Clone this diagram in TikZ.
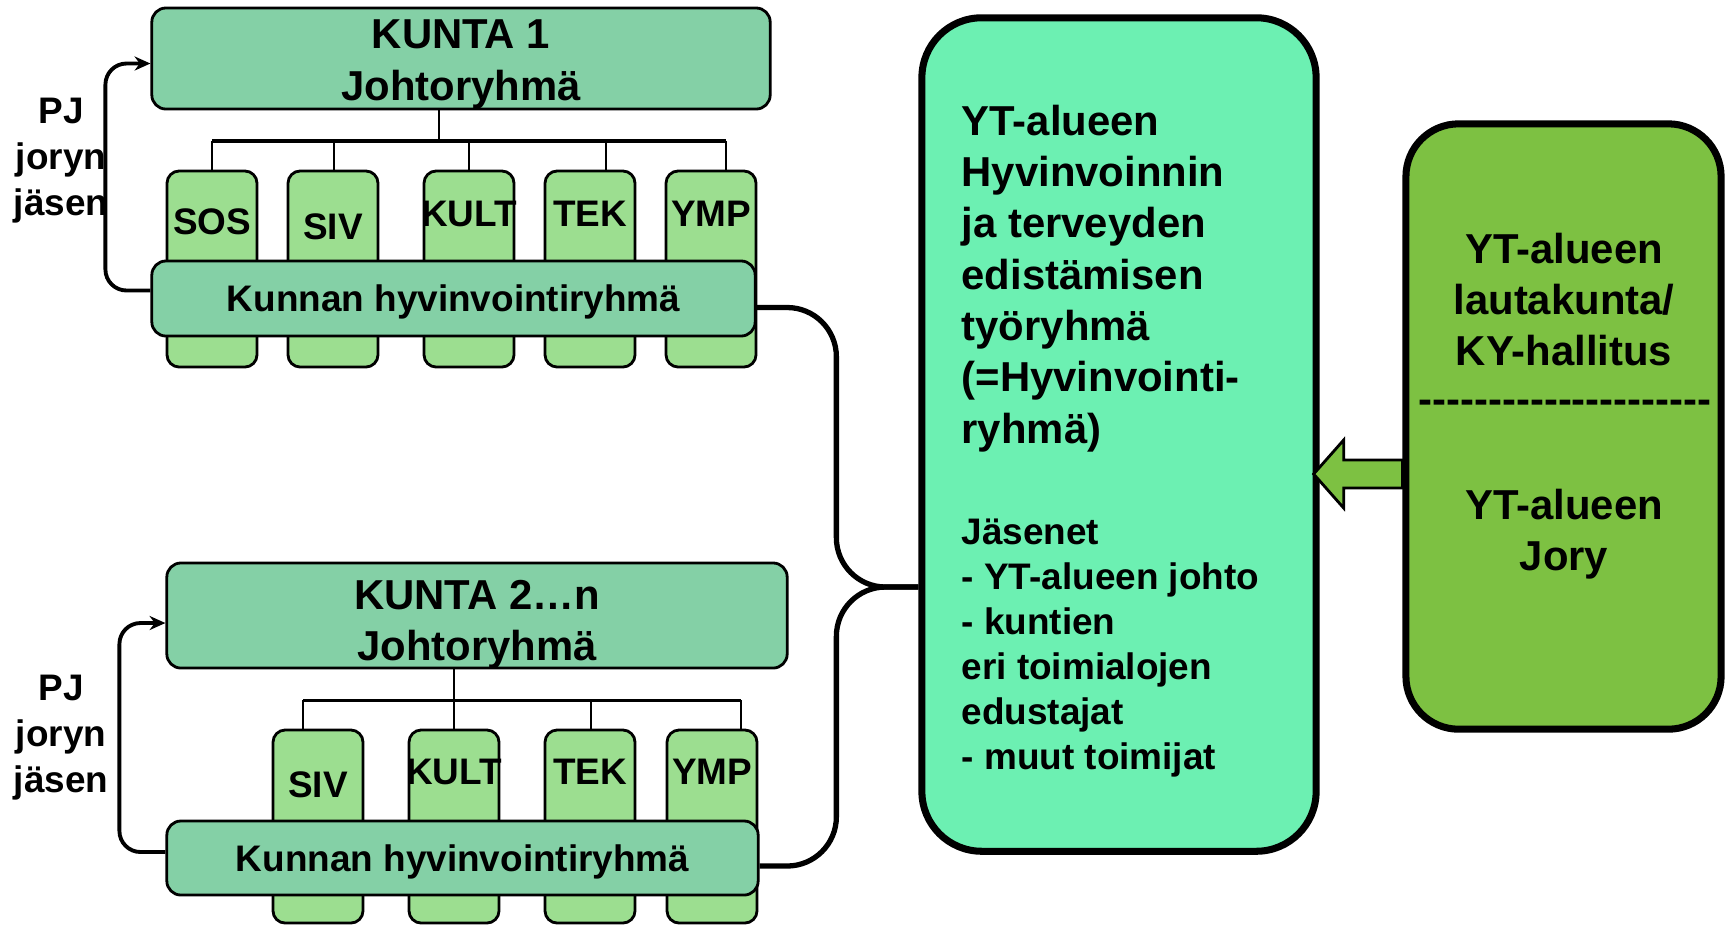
\documentclass[tikz,border=0pt]{standalone}
\usepackage{fontspec}
\setmainfont{Liberation Sans}
\usetikzlibrary{calc,arrows.meta}

\definecolor{jrgreen}{HTML}{84D0A6}
\definecolor{unitgreen}{HTML}{9CDE90}
\definecolor{ytgreen}{HTML}{6CF0B2}
\definecolor{jorygreen}{HTML}{7DC142}

\begin{document}
\begin{tikzpicture}[x=0.01cm, y=-0.01cm,
	bigtext/.style={font=\bfseries\fontsize{11.9}{14.6}\selectfont, inner sep=0pt},
	smalltext/.style={font=\bfseries\fontsize{10.5}{12.8}\selectfont, inner sep=0pt},
	pjtext/.style={font=\bfseries\fontsize{10.5}{13.1}\selectfont, inner sep=0pt, align=center},
	jrbox/.style={draw, line width=0.8pt, fill=jrgreen, rounded corners=4pt},
	unitbox/.style={draw, line width=0.8pt, fill=unitgreen, rounded corners=3.5pt, minimum width=0.9cm},
	tree/.style={line width=0.8pt},
	treebar/.style={line width=1.1pt},
	pjline/.style={line width=1.1pt, rounded corners=6pt, -{Stealth[length=4.5pt,width=4pt]}},
	brace/.style={line width=1.5pt, rounded corners=14pt},
	bigbox/.style={draw, line width=2pt},
	blockarrow/.style={draw, line width=0.8pt, fill=jorygreen, line join=miter}]

	\useasboundingbox (0,0) rectangle (1725,926);

	% ---- kunta 1

	\foreach \n/\x/\lbl/\dy in {sos/212/SOS/52, siv/333/SIV/57, kult/469/KULT/44, tek/590/TEK/44, ymp/711/YMP/44} {
		\node[unitbox, minimum height=1.96cm] (a\n) at (\x,269) {};
		\node[smalltext] (a\n-t) at ($(a\n.north)+(0,\dy)$) {\lbl};
	}

	\node[jrbox, smalltext, text depth=0pt, minimum width=6.03cm, minimum height=0.75cm] (kh1) at (453.5,298.5) {Kunnan hyvinvointiryhmä};

	\node[jrbox, minimum width=6.18cm, minimum height=1.01cm] (jr1) at (461,58.5) {};
	\node[bigtext, align=center] (jr1-t) at ($(jr1)+(0,6)$) {KUNTA 1\\Johtoryhmä};

	\coordinate (bar1) at ($(jr1.south)+(-22,30.5)$);
	\draw[tree] (jr1.south -| bar1) -- (bar1);
	\draw[treebar] (asos.north |- bar1) -- ($(aymp.north |- bar1)+(15,0)$);
	\foreach \n/\dx in {sos/0, siv/1, kult/0, tek/16, ymp/15} {
		\draw[tree] ($(a\n.north |- bar1)+(\dx,0)$) -- ($(a\n.north)+(\dx,0)$);
	}

	\coordinate (pj1) at ($(jr1.west)+(-45,5)$);
	\draw[pjline] ($(kh1.west)+(0,-8)$) -| (pj1) -- ($(jr1.west)+(0,5)$);
	\node[pjtext] (pj1-t) at (61,161) {PJ\\joryn\\jäsen};

	% ---- kunta 2...n

	\foreach \n/\x/\lbl/\dy in {siv/318/SIV/56, kult/454/KULT/43, tek/590/TEK/43, ymp/712/YMP/43} {
		\node[unitbox, minimum height=1.93cm] (b\n) at (\x,826.5) {};
		\node[smalltext] (b\n-t) at ($(b\n.north)+(0,\dy)$) {\lbl};
	}

	\node[jrbox, smalltext, text depth=0pt, minimum width=5.91cm, minimum height=0.74cm] (kh2) at (462.5,858) {Kunnan hyvinvointiryhmä};

	\node[jrbox, minimum width=6.2cm, minimum height=1.05cm] (jr2) at (477,615.5) {};
	\node[bigtext, align=center] (jr2-t) at ($(jr2)+(0,9)$) {KUNTA 2…n\\Johtoryhmä};

	\coordinate (bar2) at ($(jr2.south)+(-23,31)$);
	\draw[tree] (jr2.south -| bar2) -- (bar2);
	\draw[treebar] ($(bsiv.north |- bar2)+(-15,0)$) -- ($(bymp.north |- bar2)+(29,0)$);
	\foreach \n/\dx in {siv/-15, kult/0, tek/1, ymp/29} {
		\draw[tree] ($(b\n.north |- bar2)+(\dx,0)$) -- ($(b\n.north)+(\dx,0)$);
	}

	\coordinate (pj2) at ($(jr2.west)+(-46,7.5)$);
	\draw[pjline] ($(kh2.west)+(0,-6)$) -| (pj2) -- ($(jr2.west)+(0,7.5)$);
	\node[pjtext] (pj2-t) at (61,738) {PJ\\joryn\\jäsen};

	% ---- YT-alueen hyvinvointiryhma

	\node[bigbox, fill=ytgreen, rounded corners=17pt, minimum width=3.94cm, minimum height=8.33cm] (yt) at (1119,434.5) {};
	\node[bigtext, align=left, anchor=north west] (yt-title) at (961,104)
		{YT-alueen\\Hyvinvoinnin\\ja terveyden\\edistämisen\\työryhmä\\(=Hyvinvointi-\\ryhmä)};
	\node[smalltext, align=left, anchor=north west] (yt-members) at (961,518)
		{Jäsenet\\- YT-alueen johto\\- kuntien\\eri toimialojen\\edustajat\\- muut toimijat};

	\coordinate (meet) at ($(yt.west)+(0,152.5)$);
	\coordinate (bend) at ($(meet)+(-82,0)$);
	\draw[brace] ($(kh1.east)+(0,9)$) -| (bend) -- (meet);
	\draw[brace] ($(kh2.east)+(0,8)$) -| (bend) -- (meet);

	% ---- lautakunta / jory

	\node[bigbox, fill=jorygreen, rounded corners=15pt, minimum width=3.15cm, minimum height=6.05cm] (jory) at (1563.5,426.5) {};
	\node[bigtext, align=center, anchor=north] (jory-top) at (1564,232) {YT-alueen\\lautakunta/\\KY-hallitus};
	\node[bigtext, anchor=base] (jory-dash) at (1565,413) {\foreach \i in {1,...,21}{-\kern0pt}};
	\node[bigtext, align=center, anchor=north] (jory-bottom) at (1564,488) {YT-alueen\\Jory};

	\coordinate (tip) at ($(yt.east)+(-6,39.5)$);
	\draw[blockarrow] (tip) -- ++(30,-34) -- ++(0,20) -- ($(tip -| jory.west)+(0,-14)$)
		-- ($(tip -| jory.west)+(0,14)$) -- ($(tip)+(30,14)$) -- ++(0,20) -- cycle;

\end{tikzpicture}
\end{document}
